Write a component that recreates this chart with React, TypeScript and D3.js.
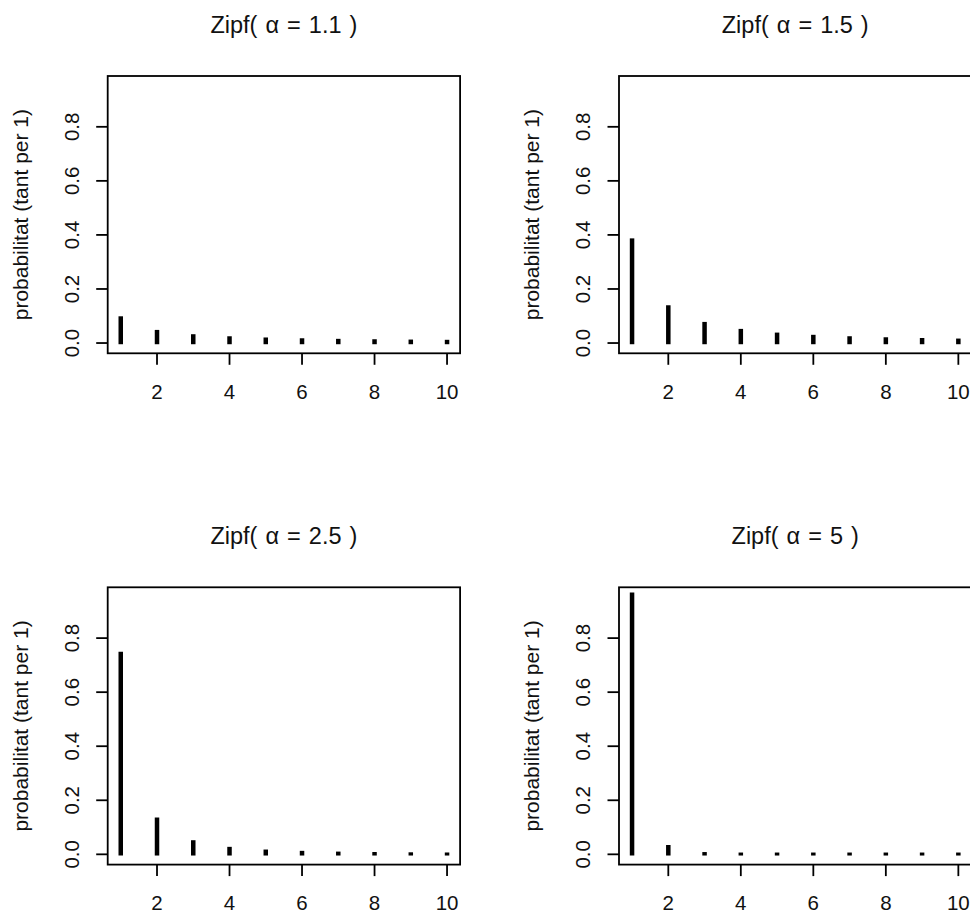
import React from "react";
import * as d3 from "d3";

// Zipf probability mass for ranks 1..10 at four exponents
const ranks = [1, 2, 3, 4, 5, 6, 7, 8, 9, 10];
const alphaLabels = ["1.1", "1.5", "2.5", "5"];
const probAlpha11 = [0.0945, 0.0441, 0.0282, 0.0206, 0.0161, 0.0132, 0.0111, 0.0096, 0.0084, 0.0075];
const probAlpha15 = [0.3828, 0.1353, 0.0737, 0.0479, 0.0342, 0.026, 0.0207, 0.0169, 0.0142, 0.0121];
const probAlpha25 = [0.7454, 0.1318, 0.0478, 0.0233, 0.0133, 0.0085, 0.0057, 0.0041, 0.0031, 0.0024];
const probAlpha5 = [0.9644, 0.0301, 0.004, 0.00094, 0.00031, 0.00012, 0.00006, 0.00003, 0.00002, 0.00001];
const xTicks = [2, 4, 6, 8, 10];
const yTicks = [0, 0.2, 0.4, 0.6, 0.8];
const yLabel = "probabilitat (tant per 1)";
const yMax = 0.95;

const W = 970;
const H = 913;
const CELL = 511.3;
const MARGIN_LEFT = 107.7;
const MARGIN_TOP = 76;
const PW = 352.4;
const PH = 277.3;
const TICK = 11.5;
const CAP = 1.2; // small overhang at both ends of each spike
const FONT = "'Liberation Sans', Arial, Helvetica, sans-serif";
const INK = "#111";

type PanelProps = { alpha: string; probs: number[]; col: number; row: number };

function Panel({ alpha, probs, col, row }: PanelProps) {
  const left = col * CELL + MARGIN_LEFT;
  const top = row * CELL + MARGIN_TOP;
  const bottom = top + PH;

  // base-graphics style 4% padding on both axes
  const xExt = d3.extent(ranks) as [number, number];
  const xPad = (xExt[1] - xExt[0]) * 0.04;
  const x = d3.scaleLinear().domain([xExt[0] - xPad, xExt[1] + xPad]).range([left, left + PW]);
  const yPad = yMax * 0.04;
  const y = d3.scaleLinear().domain([-yPad, yMax + yPad]).range([bottom, top]);
  const fmt = d3.format(".1f");

  return (
    <g>
      <text
        x={left + PW / 2}
        y={top - 43}
        textAnchor="middle"
        fontFamily={FONT}
        fontSize={23.5}
        fill={INK}
        style={{ wordSpacing: "1.5px" }}
      >
        {`Zipf( α = ${alpha} )`}
      </text>

      {ranks.map((k, i) => {
        const y0 = y(0);
        const y1 = Math.min(y(probs[i]), y0 - 0.6);
        return (
          <line
            key={k}
            x1={x(k)}
            x2={x(k)}
            y1={y0 + CAP}
            y2={y1 - CAP}
            stroke="#000"
            strokeWidth={4.5}
            strokeLinecap="butt"
          />
        );
      })}

      <rect x={left} y={top} width={PW} height={PH} fill="none" stroke="#000" strokeWidth={1.8} />

      {xTicks.map((t) => (
        <g key={t}>
          <line x1={x(t)} x2={x(t)} y1={bottom} y2={bottom + TICK} stroke="#000" strokeWidth={1.8} />
          <text x={x(t)} y={bottom + 45.7} textAnchor="middle" fontFamily={FONT} fontSize={20.5} fill={INK}>
            {t}
          </text>
        </g>
      ))}

      {yTicks.map((t) => (
        <g key={t}>
          <line x1={left - TICK} x2={left} y1={y(t)} y2={y(t)} stroke="#000" strokeWidth={1.8} />
          <text
            transform={`translate(${left - 29},${y(t)}) rotate(-90)`}
            textAnchor="middle"
            fontFamily={FONT}
            fontSize={20.5}
            fill={INK}
          >
            {fmt(t)}
          </text>
        </g>
      ))}

      <text
        transform={`translate(${left - 80},${(top + bottom) / 2}) rotate(-90)`}
        textAnchor="middle"
        fontFamily={FONT}
        fontSize={21}
        fill={INK}
      >
        {yLabel}
      </text>
    </g>
  );
}

export default function App() {
  const panels = [
    { alpha: alphaLabels[0], probs: probAlpha11 },
    { alpha: alphaLabels[1], probs: probAlpha15 },
    { alpha: alphaLabels[2], probs: probAlpha25 },
    { alpha: alphaLabels[3], probs: probAlpha5 },
  ];
  return (
    <svg
      width={W}
      height={H}
      viewBox={`0 0 ${W} ${H}`}
      style={{ position: "absolute", left: 0, top: 0, background: "#fff" }}
    >
      <rect width={W} height={H} fill="#fff" />
      {panels.map((p, i) => (
        <Panel key={p.alpha} alpha={p.alpha} probs={p.probs} col={i % 2} row={Math.floor(i / 2)} />
      ))}
    </svg>
  );
}
